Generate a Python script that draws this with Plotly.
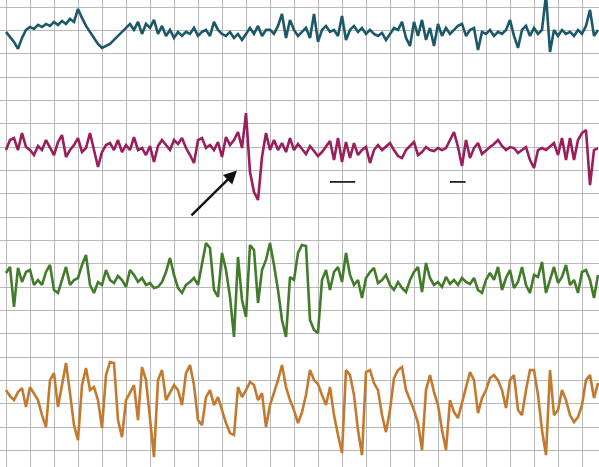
import numpy as np
import plotly.graph_objects as go

# ---- data: four EEG channels, amplitude in µV, one sample every 1/30 s ----
SAMPLE_DT = 0.2 / 6          # s per sample
SEC_PER_DIV = 0.2            # time base
UV_PER_DIV = 23.35           # sensitivity

teal_uv = [1, -4, -9, -16, -5, 3, 6, 4, 8, 6,
           9, 7, 11, 8, 12, 9, 14, 11, 24, 15,
           7, 1, -5, -11, -15, -13, -11, -7, -3, 1,
           5, 9, 3, 11, -1, 9, 5, 13, -1, 7,
           -3, 3, -5, 1, -3, 1, -1, 5, -3, 1,
           3, -3, 11, 3, -1, -3, 1, -5, -1, -7,
           -1, 5, -1, 7, -3, 3, 3, -1, 7, 19,
           -5, 13, 3, -3,
           1, 5, -5, 19, -9, 3, 7, 1, 3, -3,
           17, -7, 3, 7, 1, 5, -1, 3, -1, -3,
           0, -7, -1, 5, 3, 11, -5, -13, 11, -3,
           13, -7, 5, -13, 9, -3, 5, -1, 3, 7,
           9, -3, 3, 5, -17, 1, -1, 3, -3, 1,
           -1, 3, 13, -3, -15, 3, 7, -3, 5, -1,
           3, 38, -19, 3, -3, 3, -1, 1, -3, 3,
           -1, 7, 23, -3, 3]

magenta_uv = [-2, 8, 10, -2, 15, 1, -2, -7, 2, -2,
              8, 0, -7, 6, 13, -9, -2, 3, 10, -4,
              0, 15, -2, -19, -4, 3, 5, -2, 8, -4,
              3, -2, 11, -2, 0, -7, 2, -14, 2, 8,
              3, -2, 8, 4, 10, 0, -7, -15, 8, 10,
              0, 3, -2, 6, -9, 11, 3, 8, 16, 0,
              35, -24, -44, -52, -9, 15, -2, 8, -2, 5,
              -4, 10, -2, 4,
              -1, -6, 2, -3, -8, -4, 1, 7, -12, 10,
              -14, 6, -10, 5, -7, -2, 1, -15, -2, 3,
              -2, 2, 5, -2, -8, -10, -2, 2, 6, -7,
              -4, 1, -2, -3, 0, -2, 0, 8, 16, 1,
              -18, 8, -10, 0, 5, -6, -2, 1, 4, 8,
              2, -2, 1, 0, -5, -2, 1, -12, -20, -2,
              0, -2, 2, 5, -7, 10, -12, 10, -12, 8,
              15, 18, -37, -2, 0]

green_uv = [7, 13, -27, 12, -2, 8, 10, -5, 0, -5,
            8, 15, -10, -13, 0, 13, -5, 0, 2, 15,
            25, -5, -13, -2, -5, 10, 0, -3, 4, 0,
            -7, 10, 5, -2, 2, -5, -3, -8, -7, -2,
            8, 22, 5, -8, -13, -5, -2, 2, -5, 18,
            37, 32, -10, -17, 27, 10, -17, -57, 23, -20,
            -37, 35, 30, -23, 10, 20, 37, 15, -10, -40,
            -57, 3, 0, 27,
            35, 34, -40, -50, -53, 0, 10, -10, 8, 13,
            -2, 27, 5, -5, 0, -18, 2, 8, 12, -3,
            0, 5, -5, -10, -2, -8, -12, 0, 8, 13,
            -12, 17, 2, -5, -2, -7, 3, -4, 0, -5,
            2, -2, -4, 2, -10, -13, 0, 7, 0, 13,
            -10, 2, 10, -8, -2, 13, -5, -13, 5, 3,
            18, -13, 0, 13, -3, 3, 15, -5, 0, -13,
            8, 10, 0, -18, 5]

orange_uv = [5, -1, -5, 3, 7, -12, 8, 2, -5, -20,
             -32, 15, 22, -12, 10, 32, 2, -30, -45, 10,
             27, 5, 8, -5, -33, 20, 33, 32, -25, -42,
             -5, 2, 10, -25, 28, 15, -25, -62, 15, 25,
             -5, 3, 10, 5, -10, 22, 30, 10, -25, -30,
             -2, 5, -10, -2, -15, -28, -38, -40, 8, -2,
             5, 13, 10, -5, 2, -32, -10, 2, 15, 30,
             8, -5, -15, -28,
             -17, 0, 25, 15, 11, 0, -10, 8, -20, -40,
             -58, 25, 20, 0, -35, -60, 23, 25, 12, 5,
             -20, -37, -15, 17, 25, 28, 5, -5, -15, -28,
             -55, 5, 20, 3, -10, -35, -55, -5, -17, -23,
             -7, 7, 23, 15, -18, -3, 5, 17, 20, 15,
             5, -13, 15, 20, -15, -20, 5, 25, 25, 0,
             -35, -60, 25, -20, -15, 5, -5, -20, -27, -22,
             -10, 15, 20, -3, 12]

channels = ["Ch1", "Ch2", "Ch3", "Ch4"]
channel_data = [teal_uv, magenta_uv, green_uv, orange_uv]
channel_colors = ["#1b5868", "#9a1d5c", "#427c2b", "#c47a2e"]
channel_offsets_div = [1.11, 6.04, 11.69, 16.62]   # baseline of each row, in divisions

fig = go.Figure()
for name, vals, col, off in zip(channels, channel_data, channel_colors, channel_offsets_div):
    v = np.asarray(vals, dtype=float)
    t = np.arange(len(v)) * SAMPLE_DT
    fig.add_trace(go.Scatter(
        x=t, y=off - v / UV_PER_DIV, mode="lines", name=name,
        line=dict(color=col, width=2.6), hoverinfo="skip", showlegend=False))

# calibration dashes below channel 2
dash_t = [(2.70, 2.91), (3.70, 3.83)]
for t0, t1 in dash_t:
    fig.add_shape(type="line", x0=t0, x1=t1, y0=7.49, y1=7.49, xref="x", yref="y",
                  line=dict(color="#222222", width=1.8))

# arrow pointing to the sharp wave
fig.add_annotation(x=1.925, y=7.0, ax=1.533, ay=8.99, xref="x", yref="y",
                   axref="x", ayref="y", text="", showarrow=True,
                   arrowhead=2, arrowsize=1.1, arrowwidth=2.4, arrowcolor="#111111")

x_lo = -6 / 24 * SEC_PER_DIV
x_hi = (599 - 6) / 24 * SEC_PER_DIV
fig.update_layout(
    width=599, height=467,
    margin=dict(l=0, r=0, t=0, b=0),
    paper_bgcolor="white", plot_bgcolor="white",
    hovermode=False,
    xaxis=dict(range=[x_lo, x_hi], tick0=0, dtick=SEC_PER_DIV, showgrid=True,
               gridcolor="#b8b8b8", gridwidth=1.4, zeroline=False,
               showticklabels=False, ticks="", showline=False),
    yaxis=dict(range=[19.7, -0.3], tick0=0, dtick=1, showgrid=True,
               gridcolor="#b8b8b8", gridwidth=1.4, zeroline=False,
               showticklabels=False, ticks="", showline=False),
)
fig.write_html("out.html", config={"displayModeBar": False},
               post_script="document.body.style.margin='0';document.body.style.overflow='hidden';")
